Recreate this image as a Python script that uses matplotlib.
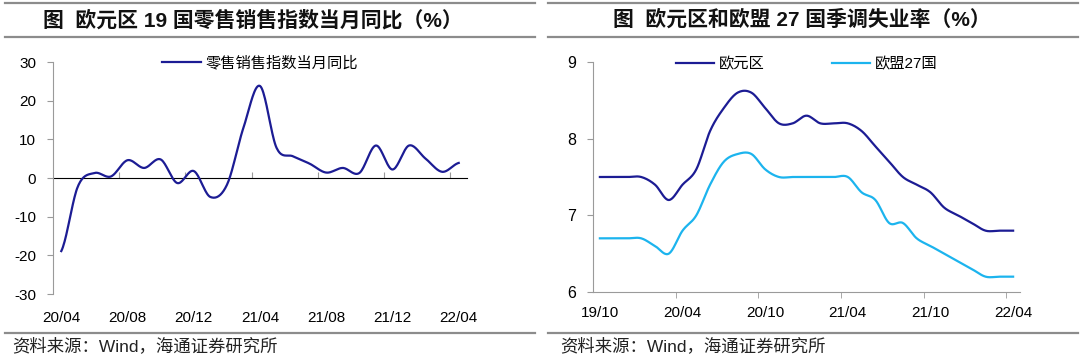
import numpy as np
import matplotlib
matplotlib.use("Agg")
import matplotlib.pyplot as plt
from matplotlib.lines import Line2D

plt.rcParams['font.family'] = ['Liberation Sans', 'Noto Sans CJK SC', 'DejaVu Sans']
plt.rcParams['axes.unicode_minus'] = False

# 左图：欧元区19国零售销售指数当月同比（%），20/04 - 22/04
retail_months = ['20/04', '20/05', '20/06', '20/07', '20/08', '20/09', '20/10', '20/11', '20/12',
                 '21/01', '21/02', '21/03', '21/04', '21/05', '21/06', '21/07', '21/08', '21/09',
                 '21/10', '21/11', '21/12', '22/01', '22/02', '22/03', '22/04']
retail_yoy = [-18.9, -2.2, 1.3, 0.4, 4.6, 2.6, 4.8, -1.3, 1.8,
              -4.9, -1.8, 13.0, 23.8, 7.8, 5.6, 3.7, 1.4, 2.6,
              1.3, 8.4, 2.2, 8.4, 5.0, 1.6, 3.9]

# 右图：欧元区和欧盟27国季调失业率（%），19/10 - 22/04
unemp_months = ['19/10', '19/11', '19/12', '20/01', '20/02', '20/03', '20/04', '20/05', '20/06',
                '20/07', '20/08', '20/09', '20/10', '20/11', '20/12', '21/01', '21/02', '21/03',
                '21/04', '21/05', '21/06', '21/07', '21/08', '21/09', '21/10', '21/11', '21/12',
                '22/01', '22/02', '22/03', '22/04']
euro_area = [7.5, 7.5, 7.5, 7.5, 7.4, 7.2, 7.4, 7.6, 8.1,
             8.4, 8.6, 8.6, 8.4, 8.2, 8.2, 8.3, 8.2, 8.2,
             8.2, 8.1, 7.9, 7.7, 7.5, 7.4, 7.3, 7.1, 7.0,
             6.9, 6.8, 6.8, 6.8]
eu27 = [6.7, 6.7, 6.7, 6.7, 6.6, 6.5, 6.8, 7.0, 7.4,
        7.7, 7.8, 7.8, 7.6, 7.5, 7.5, 7.5, 7.5, 7.5,
        7.5, 7.3, 7.2, 6.9, 6.9, 6.7, 6.6, 6.5, 6.4,
        6.3, 6.2, 6.2, 6.2]

NAVY = '#1c1c94'
CYAN = '#1cb4ee'
GRAY = '#9a9a9a'


def smooth(y, n=20):
    # Excel风格的平滑线（Catmull-Rom）
    y = np.asarray(y, float)
    x = np.arange(len(y), dtype=float)
    p = np.concatenate([[y[0]], y, [y[-1]]])
    xs, ys = [], []
    t = np.linspace(0, 1, n, endpoint=False)
    for i in range(len(y) - 1):
        p0, p1, p2, p3 = p[i], p[i + 1], p[i + 2], p[i + 3]
        yy = 0.5 * (2 * p1 + (-p0 + p2) * t + (2 * p0 - 5 * p1 + 4 * p2 - p3) * t ** 2
                    + (-p0 + 3 * p1 - 3 * p2 + p3) * t ** 3)
        xs.append(x[i] + t)
        ys.append(yy)
    xs.append([x[-1]])
    ys.append([y[-1]])
    return np.concatenate(xs), np.concatenate(ys)


fig = plt.figure(figsize=(10.8, 3.59), dpi=100)

# 标题和分隔线
for x0, x1 in [(5 / 1080, 535 / 1080), (548 / 1080, 1078 / 1080)]:
    for yy in [1 - 3 / 359, 1 - 37 / 359, 1 - 333 / 359]:
        fig.add_artist(Line2D([x0, x1], [yy, yy], color='#8c8c8c', lw=1.6))

fig.text(253 / 1080, 1 - 20 / 359, '图  欧元区 19 国零售销售指数当月同比（%）',
         ha='center', va='center', fontsize=15, fontweight='bold', color='#111111')
fig.text(802 / 1080, 1 - 20 / 359, '图  欧元区和欧盟 27 国季调失业率（%）',
         ha='center', va='center', fontsize=15, fontweight='bold', color='#111111')
fig.text(12 / 1080, 1 - 346 / 359, '资料来源：Wind，海通证券研究所',
         ha='left', va='center', fontsize=12.5, color='#222222')
fig.text(560 / 1080, 1 - 346 / 359, '资料来源：Wind，海通证券研究所',
         ha='left', va='center', fontsize=12.5, color='#222222')

# ---- 左图 ----
ax1 = fig.add_axes([53 / 1080, 1 - 294 / 359, 414 / 1080, 232 / 359])
xs, ys = smooth(retail_yoy)
ax1.plot(xs, ys, color=NAVY, lw=1.6, label='零售销售指数当月同比')
ax1.set_xlim(-0.5, len(retail_months) - 0.5)
ax1.set_ylim(-30, 30)
ax1.set_yticks(np.arange(-30, 31, 10))
for s in ['top', 'right', 'bottom']:
    ax1.spines[s].set_visible(False)
ax1.spines['left'].set_color(GRAY)
ax1.tick_params(axis='y', direction='out', length=4, color=GRAY, labelsize=11, pad=8)
pos1 = np.arange(0, len(retail_months), 4)
ax1.set_xticks(pos1, [retail_months[i] for i in pos1])
ax1.tick_params(axis='x', length=0, labelsize=11, pad=12)
zero = ax1.secondary_xaxis(0.5)
zero.set_xticks(np.arange(-0.5, len(retail_months), 4)[1:], [])
zero.spines['bottom'].set_color(GRAY)
zero.tick_params(direction='out', length=4, color=GRAY)
ax1.legend(loc='upper center', bbox_to_anchor=(0.5, 1.085), frameon=False, fontsize=11,
           handlelength=2.5, handletextpad=0.3)

# ---- 右图 ----
ax2 = fig.add_axes([593 / 1080, 1 - 292 / 359, 427 / 1080, 230 / 359])
xs, ys = smooth(euro_area)
ax2.plot(xs, ys, color=NAVY, lw=1.6, label='欧元区')
xs, ys = smooth(eu27)
ax2.plot(xs, ys, color=CYAN, lw=1.6, label='欧盟27国')
ax2.set_xlim(-0.5, len(unemp_months) - 0.5)
ax2.set_ylim(6, 9)
ax2.set_yticks([6, 7, 8, 9])
for s in ['top', 'right']:
    ax2.spines[s].set_visible(False)
ax2.spines['left'].set_color(GRAY)
ax2.spines['bottom'].set_color(GRAY)
ax2.tick_params(axis='y', direction='out', length=4, color=GRAY, labelsize=11.5, pad=8)
pos2 = np.arange(0, len(unemp_months), 6)
ax2.set_xticks(pos2, [unemp_months[i] for i in pos2])
ax2.tick_params(axis='x', which='major', length=0, labelsize=11, pad=10)
ax2.set_xticks(np.arange(-0.5, len(unemp_months), 6)[1:], minor=True)
ax2.tick_params(axis='x', which='minor', direction='out', length=4, color=GRAY)
ax2.legend(loc='upper center', bbox_to_anchor=(0.5, 1.08), ncol=2, frameon=False,
           fontsize=11, handlelength=2.5, handletextpad=0.3, columnspacing=4.4)

fig.savefig('out.png', dpi=100)
